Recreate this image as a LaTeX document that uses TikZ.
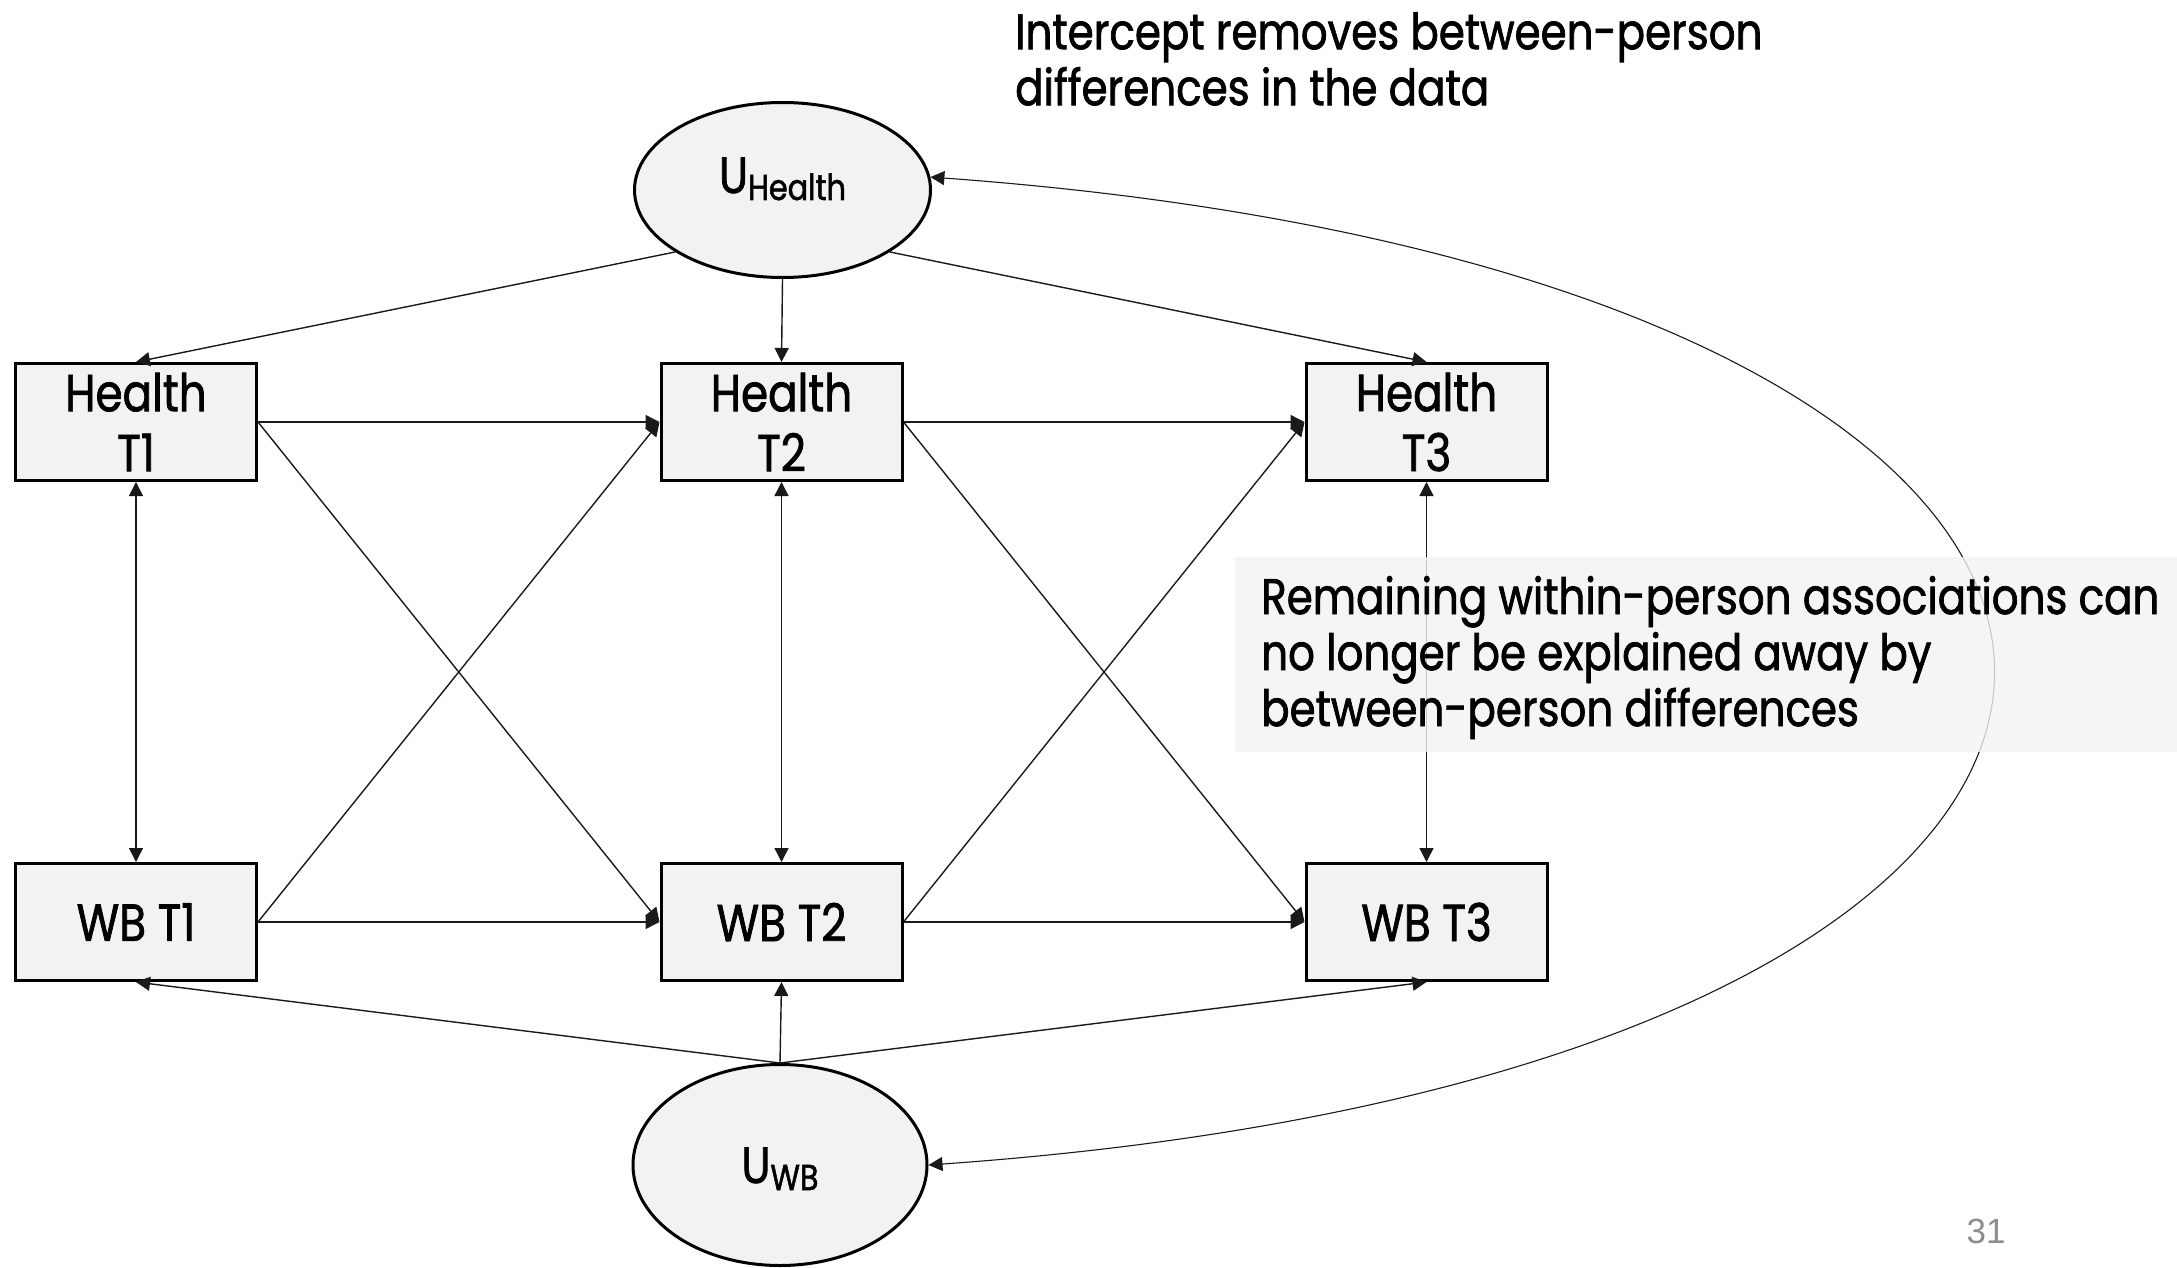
\documentclass[tikz,border=0pt]{standalone}
\usepackage{fontspec}
\setmainfont{Poppins}[FakeStretch=0.84, FakeBold=1.4]
\newfontfamily\numfont{Liberation Sans}
\usetikzlibrary{arrows.meta,shapes.geometric}
\definecolor{boxfill}{HTML}{F2F2F2}
\definecolor{notefill}{HTML}{F3F3F3}
\definecolor{pagenum}{HTML}{8C8C8C}
\definecolor{linecol}{HTML}{1A1A1A}

\begin{document}
\begin{tikzpicture}[x=1pt,y=-1pt,
  varbox/.style={draw, line width=3pt, fill=boxfill, minimum width=241pt,
    minimum height=117pt, inner sep=0pt, align=center,
    font=\fontsize{52}{60}\selectfont},
  latent/.style={ellipse, draw, line width=3pt, fill=boxfill, inner sep=0pt,
    font=\fontsize{51}{51}\selectfont},
  regpath/.style={draw=linecol, line width=1.4pt, -{Triangle[length=14pt,width=14pt]}},
  covpath/.style={draw=linecol, line width=1.4pt,
    {Triangle[length=14pt,width=14pt]}-{Triangle[length=14pt,width=14pt]}},
  notetext/.style={font=\fontsize{50}{56}\selectfont, align=left, inner sep=0pt}
]
\useasboundingbox (0,0) rectangle (2177,1268);

% latent intercepts
\node[latent, minimum width=296pt, minimum height=175pt, text height=20pt, text depth=14pt]
  (uh) at (782.5,190) {U\raisebox{-7pt}{\fontsize{36}{36}\selectfont Health}};
\node[latent, minimum width=294pt, minimum height=201pt, text height=36pt, text depth=0pt]
  (uw) at (780,1165) {U\raisebox{-7pt}{\fontsize{36}{36}\selectfont WB}};

% observed variables
\node[varbox] (h1) at (136,422) {Health\\T1};
\node[varbox] (h2) at (781.5,422) {Health\\T2};
\node[varbox] (h3) at (1426.5,422) {Health\\T3};
\node[varbox] (w1) at (136,922) {WB T1};
\node[varbox] (w2) at (781.5,922) {WB T2};
\node[varbox] (w3) at (1426.5,922) {WB T3};

% intercept loadings
\draw[regpath] (uh.210) -- (h1.north);
\draw[regpath] (uh.south) -- (h2.north);
\draw[regpath] (uh.330) -- (h3.north);
\draw[regpath] (uw.north) -- (w1.south);
\draw[regpath] (uw.north) -- (w2.south);
\draw[regpath] (uw.north) -- (w3.south);

% autoregressive and cross-lagged paths
\draw[regpath] (h1.east) -- (h2.west);
\draw[regpath] (h2.east) -- (h3.west);
\draw[regpath] (w1.east) -- (w2.west);
\draw[regpath] (w2.east) -- (w3.west);
\draw[regpath] (h1.east) -- (w2.west);
\draw[regpath] (w1.east) -- (h2.west);
\draw[regpath] (h2.east) -- (w3.west);
\draw[regpath] (w2.east) -- (h3.west);

% within-time covariances
\draw[covpath] (h1.south) -- (w1.north);
\draw[covpath] (h2.south) -- (w2.north);
\draw[covpath] (h3.south) -- (w3.north);

% covariance between the intercepts
\draw[covpath, line width=1.1pt] (uh.5) .. controls (2345,280) and (2345,1065) .. (uw.east);

% annotations
\node[notetext, anchor=north west] (top) at (1015,12)
  {Intercept removes between-person\\differences in the data};
\node[fill=notefill, fill opacity=0.8, text opacity=1, anchor=north west,
  minimum width=942pt, minimum height=195pt, inner sep=0pt] (noteback) at (1235,557) {};
\node[notetext, anchor=west] (note) at (1261,657.5)
  {Remaining within-person associations can\\no longer be explained away by\\between-person differences};

% slide number
\node[font=\numfont\fontsize{35}{35}\selectfont, text=pagenum, anchor=base, inner sep=0pt]
  (pnum) at (1986,1243) {31};
\end{tikzpicture}
\end{document}
